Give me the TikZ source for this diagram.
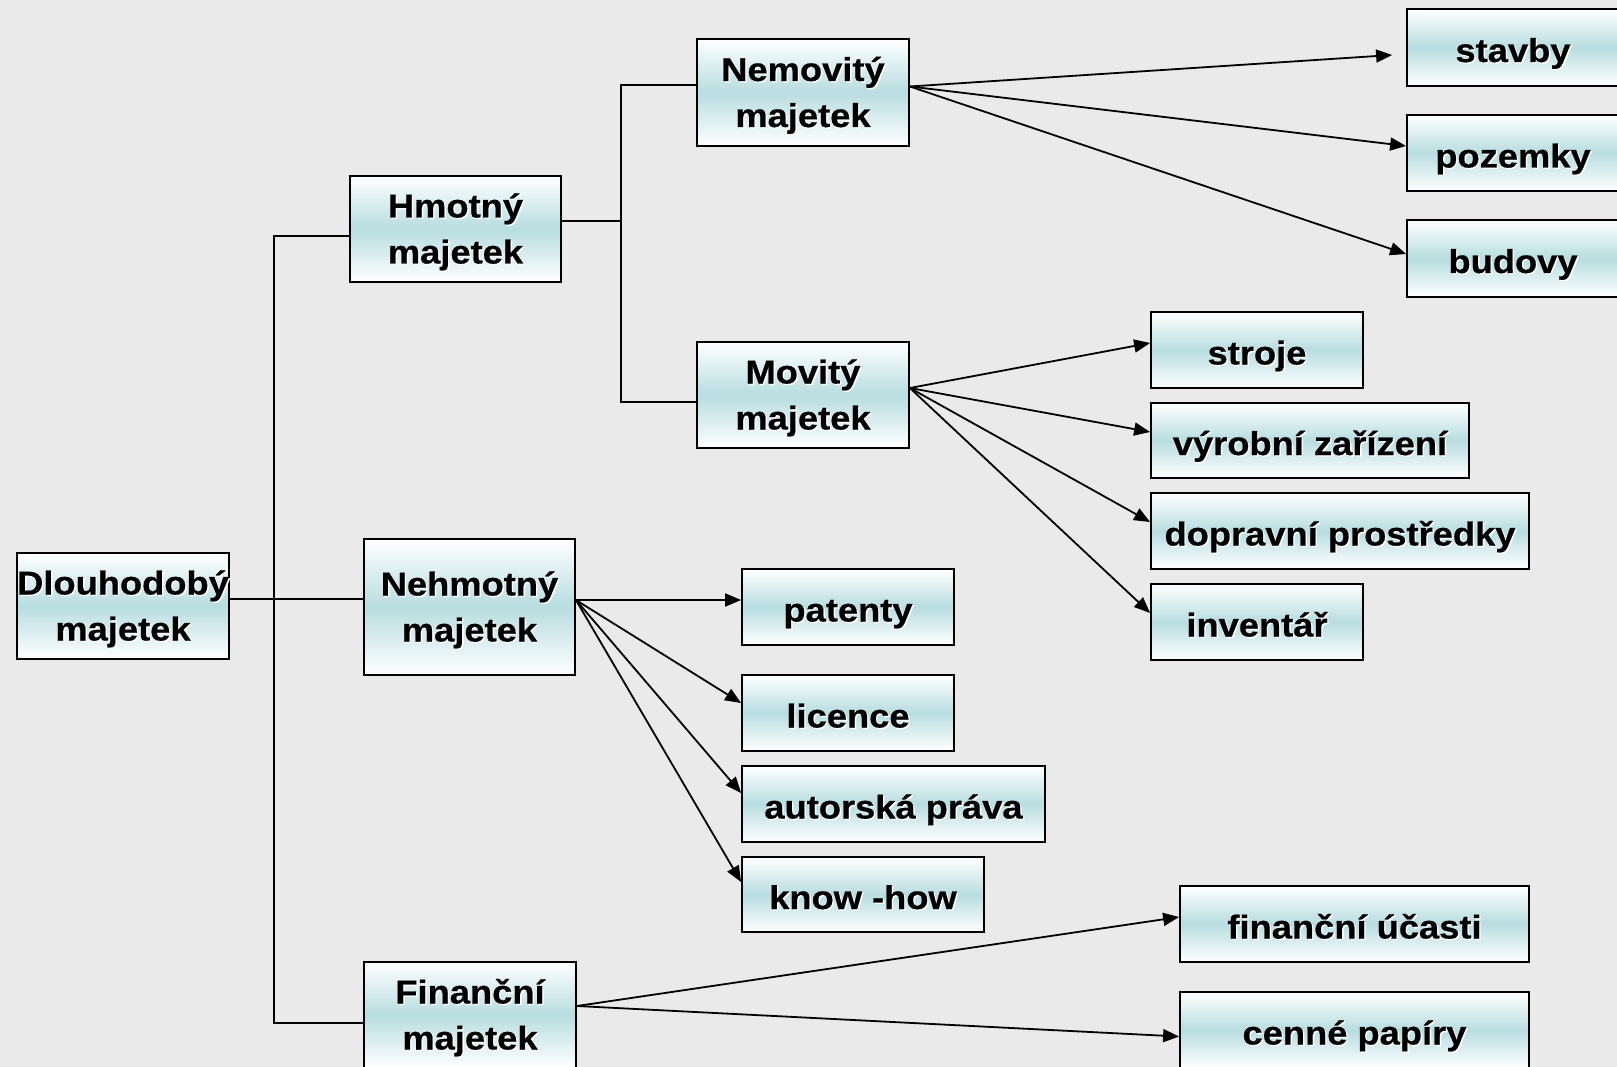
\documentclass[tikz,border=0pt]{standalone}
\usepackage{fontspec}
\setmainfont{Liberation Sans}[FakeStretch=1.1, BoldFeatures={FakeBold=0.6}]
\usetikzlibrary{arrows.meta}
\definecolor{bgcol}{RGB}{234,234,234}
\definecolor{boxteal}{RGB}{184,221,224}
\newcommand\shtxt[2][6pt]{\raisebox{-#1}[24pt][7pt]{\rlap{\kern1.4pt\raisebox{-1.4pt}{\textcolor{white}{#2}}}#2}}
\begin{document}
\begin{tikzpicture}[x=1pt,y=-1pt,
  box/.style={draw=black, line width=1.8pt, top color=white, bottom color=white,
    middle color=boxteal, inner sep=0pt, align=center, text=black,
    font=\fontsize{33}{46}\selectfont\bfseries},
  conn/.style={line width=1.8pt},
  arr/.style={line width=1.8pt, -{Triangle[length=16pt,width=13pt]}}]
\useasboundingbox (0,0) rectangle (1617,1067);
\clip (0,0) rectangle (1617,1067);
\fill[bgcol] (0,0) rectangle (1617,1067);

% level 0 / 1
\node[box, minimum width=212pt, minimum height=106pt] (dl) at (123,606) {\shtxt[3pt]{Dlouhodobý}\\\shtxt[3pt]{majetek}};
\node[box, minimum width=211pt, minimum height=106pt] (hm) at (455.5,229) {\shtxt[3pt]{Hmotný}\\\shtxt[3pt]{majetek}};
\node[box, minimum width=211pt, minimum height=136pt] (neh) at (469.5,607) {\shtxt[3pt]{Nehmotný}\\\shtxt[3pt]{majetek}};
\node[box, minimum width=212pt, minimum height=106pt] (fin) at (470,1015) {\shtxt[3pt]{Finanční}\\\shtxt[3pt]{majetek}};
% level 2
\node[box, minimum width=212pt, minimum height=107pt] (nem) at (803,92.5) {\shtxt[3pt]{Nemovitý}\\\shtxt[3pt]{majetek}};
\node[box, minimum width=212pt, minimum height=106pt] (mov) at (803,395) {\shtxt[3pt]{Movitý}\\\shtxt[3pt]{majetek}};
% leaves
\node[box, minimum width=212pt, minimum height=77pt] (stavby) at (1513,47.5) {\shtxt{stavby}};
\node[box, minimum width=212pt, minimum height=76pt] (pozemky) at (1513,153) {\shtxt{pozemky}};
\node[box, minimum width=212pt, minimum height=77pt] (budovy) at (1513,258.5) {\shtxt{budovy}};
\node[box, minimum width=212pt, minimum height=76pt] (stroje) at (1257,350) {\shtxt{stroje}};
\node[box, minimum width=318pt, minimum height=75pt] (vyrobni) at (1310,440.5) {\shtxt{výrobní zařízení}};
\node[box, minimum width=378pt, minimum height=76pt] (doprav) at (1340,531) {\shtxt{dopravní prostředky}};
\node[box, minimum width=212pt, minimum height=76pt] (invent) at (1257,622) {\shtxt{inventář}};
\node[box, minimum width=212pt, minimum height=76pt] (patenty) at (848,607) {\shtxt{patenty}};
\node[box, minimum width=212pt, minimum height=76pt] (licence) at (848,713) {\shtxt{licence}};
\node[box, minimum width=303pt, minimum height=76pt] (autor) at (893.5,804) {\shtxt{autorská práva}};
\node[box, minimum width=242pt, minimum height=75pt] (know) at (863,894.5) {\shtxt{know -how}};
\node[box, minimum width=349pt, minimum height=76pt] (ucasti) at (1354.5,924) {\shtxt{finanční účasti}};
\node[box, minimum width=349pt, minimum height=76pt] (cenne) at (1354.5,1030) {\shtxt{cenné papíry}};

% junctions
\coordinate (j1) at (274,236);
\coordinate (j2) at (274,1023);
\coordinate (j3) at (621,221);
\coordinate (j4) at (621,85);
\coordinate (j5) at (621,402);

% tree lines
\draw[conn] ([yshift=-7pt]hm.west) -- (j1) -- (j2) -- ([yshift=-8pt]fin.west);
\draw[conn] ([yshift=7pt]dl.east) -- ([yshift=8pt]neh.west);
\draw[conn] ([yshift=8pt]hm.east) -- (j3);
\draw[conn] ([yshift=7.5pt]nem.west) -- (j4) -- (j5) -- ([yshift=-7pt]mov.west);

% arrows
\draw[arr] ([yshift=6pt]nem.east) -- ([xshift=-14pt,yshift=-7.5pt]stavby.west);
\draw[arr] ([yshift=6pt]nem.east) -- ([yshift=7pt]pozemky.west);
\draw[arr] ([yshift=6pt]nem.east) -- ([yshift=4.5pt]budovy.west);

\draw[arr] ([yshift=7pt]mov.east) -- ([yshift=7pt]stroje.west);
\draw[arr] ([yshift=7pt]mov.east) -- ([yshift=8.5pt]vyrobni.west);
\draw[arr] ([yshift=7pt]mov.east) -- ([yshift=9pt]doprav.west);
\draw[arr] ([yshift=7pt]mov.east) -- ([yshift=9pt]invent.west);

\draw[arr] ([yshift=7pt]neh.east) -- ([yshift=7pt]patenty.west);
\draw[arr] ([yshift=7pt]neh.east) -- ([yshift=10pt]licence.west);
\draw[arr] ([yshift=7pt]neh.east) -- ([yshift=11pt]autor.west);
\draw[arr] ([yshift=7pt]neh.east) -- ([yshift=12.5pt]know.west);

\draw[arr] ([yshift=9pt]fin.east) -- ([yshift=7pt]ucasti.west);
\draw[arr] ([yshift=9pt]fin.east) -- ([yshift=-6.5pt]cenne.west);
\end{tikzpicture}
\end{document}
